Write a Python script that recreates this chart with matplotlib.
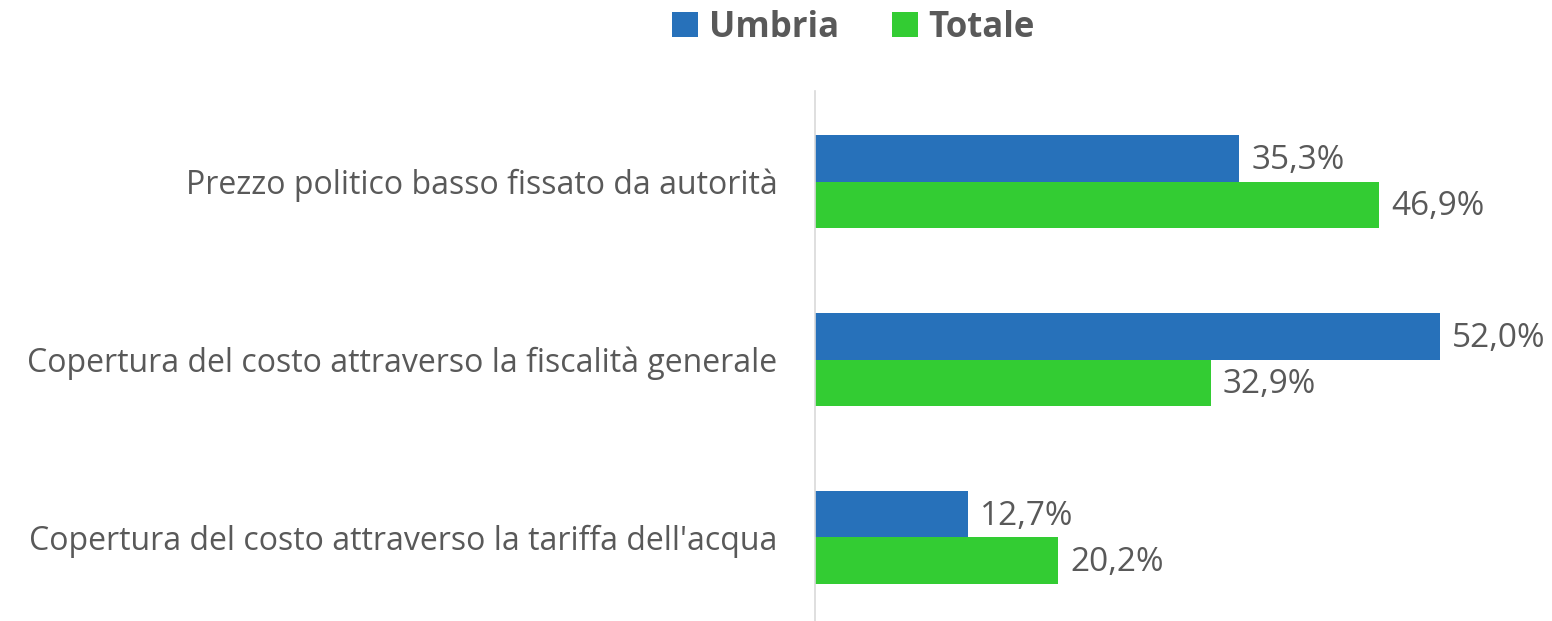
import numpy as np
import matplotlib
matplotlib.use('Agg')
import matplotlib.pyplot as plt

categorie = ['Prezzo politico basso fissato da autorità',
             'Copertura del costo attraverso la fiscalità generale',
             "Copertura del costo attraverso la tariffa dell'acqua"]
umbria = [35.3, 52.0, 12.7]
totale = [46.9, 32.9, 20.2]
serie = ['Umbria', 'Totale']
colori = ['#2771BA', '#33CC33']
grigio = '#595959'

plt.rcParams['font.family'] = ['Open Sans', 'DejaVu Sans']

fig = plt.figure(figsize=(15.52, 6.21), dpi=100)
ax = fig.add_axes([815/1552, 0.0, 0.99 - 815/1552, (621-91)/621])

y = np.arange(len(categorie))
h = 0.26
b1 = ax.barh(y - h/2, umbria, height=h, color=colori[0], label=serie[0])
b2 = ax.barh(y + h/2, totale, height=h, color=colori[1], label=serie[1])

for bars, vals in ((b1, umbria), (b2, totale)):
    for bar, v in zip(bars, vals):
        ax.text(bar.get_width() + 1.0, bar.get_y() + bar.get_height()/2 + 0.01,
                f'{v:.1f}%'.replace('.', ','), va='center', ha='left',
                fontsize=24, color=grigio)

ax.set_ylim(2.47, -0.51)
ax.set_xlim(0, 60)
ax.set_yticks(y)
ax.set_yticklabels(categorie, fontsize=23, color=grigio)
ax.tick_params(axis='y', length=0, pad=27)
ax.set_xticks([])
for s in ['top', 'right', 'bottom']:
    ax.spines[s].set_visible(False)
ax.spines['left'].set_color('#D9D9D9')
ax.spines['left'].set_linewidth(1.2)

leg = fig.legend(loc='upper center', bbox_to_anchor=(0.550, 1.035), ncol=2, frameon=False,
                 prop={'size': 25, 'weight': 'bold'}, handlelength=0.75, handleheight=0.75,
                 handletextpad=0.32, columnspacing=1.5)
for t in leg.get_texts():
    t.set_color(grigio)

fig.savefig('out.png', dpi=100)
